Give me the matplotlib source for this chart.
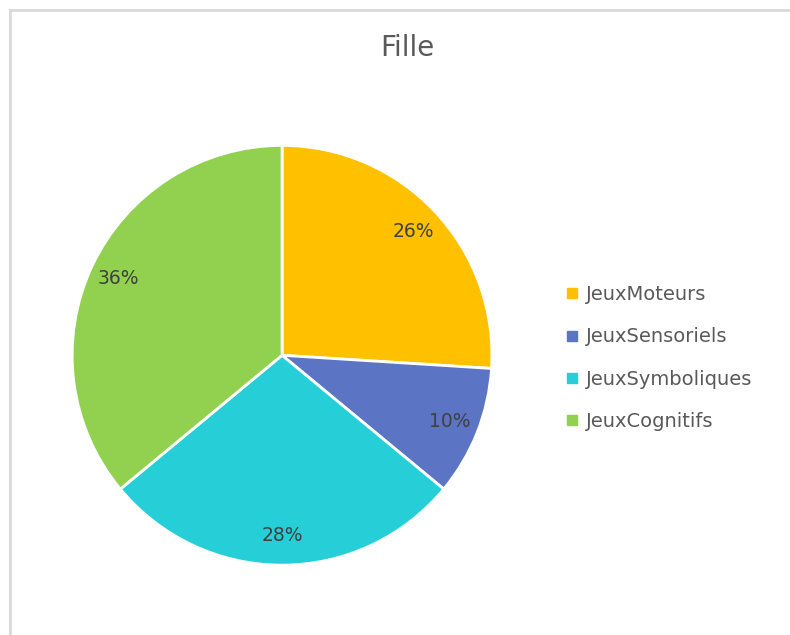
import matplotlib.pyplot as plt
from matplotlib.lines import Line2D

labels = ['JeuxMoteurs', 'JeuxSensoriels', 'JeuxSymboliques', 'JeuxCognitifs']
values = [26, 10, 28, 36]
colors = ['#FFC000', '#5B75C4', '#26CFD8', '#92D050']
title = 'Fille'

fig = plt.figure(figsize=(7.9, 6.35), dpi=100)

# light frame on top and left
fig.add_artist(Line2D([0.013, 1.0], [0.984, 0.984], color='#D9D9D9', lw=2))
fig.add_artist(Line2D([0.013, 0.013], [0.0, 0.984], color='#D9D9D9', lw=2))

ax = fig.add_axes([0.091, 0.110, 0.532, 0.661])
wedges, texts, autotexts = ax.pie(values, colors=colors, startangle=90, counterclock=False,
                                  autopct='%1.0f%%', pctdistance=0.86,
                                  wedgeprops=dict(edgecolor='white', linewidth=2))
for t in autotexts:
    t.set_color('#404040')
    t.set_fontsize(13.5)
ax.set_xlim(-1, 1)
ax.set_ylim(-1, 1)
ax.set_aspect('equal')

fig.text(0.516, 0.925, title, ha='center', va='center', fontsize=20, color='#595959')

handles = [Line2D([], [], marker='s', ls='', color=c, markersize=7) for c in colors]
leg = fig.legend(handles, labels, loc='center left', bbox_to_anchor=(0.69, 0.436),
                 frameon=False, fontsize=14, labelspacing=1.2, handletextpad=0.2,
                 handlelength=1.0)
for t in leg.get_texts():
    t.set_color('#595959')

fig.savefig('out.png', dpi=100)
